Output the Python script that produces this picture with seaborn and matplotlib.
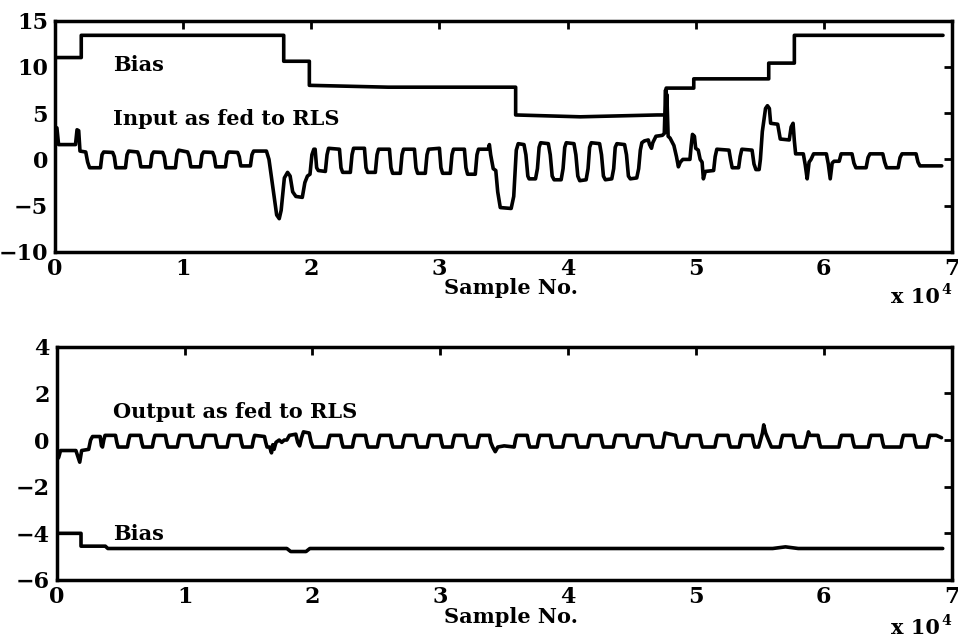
import matplotlib
matplotlib.use("Agg")
import matplotlib.pyplot as plt
import seaborn as sns
import pandas as pd

# ---------------- data (x in units of 1e4 samples) ----------------
input_x = [0.000, 0.015, 0.028, 0.160, 0.172, 0.185, 0.195, 0.240, 0.255, 0.270,
           0.355, 0.367, 0.380, 0.450, 0.463, 0.475,
           0.550, 0.562, 0.575, 0.645, 0.658, 0.670,
           0.745, 0.757, 0.770, 0.840, 0.853, 0.865,
           0.940, 0.952, 0.965, 1.035, 1.048, 1.060,
           1.135, 1.147, 1.160, 1.230, 1.243, 1.255,
           1.330, 1.342, 1.355, 1.425, 1.438, 1.450,
           1.525, 1.537, 1.550, 1.650, 1.670, 1.700, 1.730, 1.750, 1.765, 1.790,
           1.815, 1.835, 1.855, 1.880, 1.930, 1.950, 1.970, 1.990, 2.005, 2.020,
           2.030, 2.042, 2.055, 2.110, 2.123, 2.135,
           2.220, 2.232, 2.245, 2.305, 2.318, 2.330,
           2.415, 2.427, 2.440, 2.500, 2.513, 2.525,
           2.610, 2.622, 2.635, 2.695, 2.708, 2.720,
           2.805, 2.817, 2.830, 2.890, 2.903, 2.915,
           3.000, 3.012, 3.025, 3.085, 3.098, 3.110,
           3.195, 3.207, 3.220, 3.280, 3.293, 3.305,
           3.380, 3.390, 3.400, 3.420, 3.440, 3.455, 3.475, 3.560, 3.580, 3.600,
           3.615, 3.660, 3.675, 3.690, 3.700, 3.750, 3.765, 3.778, 3.790,
           3.850, 3.865, 3.880, 3.895, 3.950, 3.965, 3.978, 3.990,
           4.050, 4.065, 4.080, 4.095, 4.145, 4.160, 4.172, 4.185,
           4.250, 4.265, 4.280, 4.295, 4.345, 4.360, 4.372, 4.385,
           4.445, 4.460, 4.475, 4.490, 4.540, 4.555, 4.568, 4.580,
           4.600, 4.630, 4.640, 4.655, 4.665, 4.690, 4.740, 4.755, 4.765, 4.770,
           4.775, 4.785, 4.800, 4.830, 4.850, 4.865, 4.880, 4.900, 4.955, 4.965,
           4.975, 4.990, 5.000, 5.020, 5.035, 5.050, 5.060, 5.075, 5.140, 5.152,
           5.165, 5.260, 5.272, 5.285, 5.335, 5.347, 5.360, 5.440, 5.455, 5.470,
           5.495, 5.505, 5.520, 5.545, 5.560, 5.575, 5.585, 5.640, 5.660, 5.730,
           5.745, 5.760, 5.770, 5.780, 5.840, 5.855, 5.870, 5.885, 5.900, 5.920,
           6.020, 6.035, 6.050, 6.065, 6.080, 6.120, 6.135, 6.220, 6.235, 6.250,
           6.330, 6.345, 6.360, 6.460, 6.475, 6.490, 6.580, 6.595, 6.610, 6.720,
           6.735, 6.750, 6.920]
input_y = [3.5, 3.4, 1.6, 1.6, 3.2, 3.1, 0.9, 0.8, -0.3, -0.9,
           -0.9, 0.5, 0.8, 0.75, 0.3, -0.9,
           -0.9, 0.5, 0.9, 0.8, 0.3, -0.8,
           -0.8, 0.5, 0.8, 0.75, 0.3, -0.9,
           -0.9, 0.6, 1.0, 0.8, 0.3, -0.8,
           -0.8, 0.5, 0.8, 0.75, 0.3, -0.8,
           -0.8, 0.5, 0.8, 0.75, 0.3, -0.7,
           -0.7, 0.5, 0.9, 0.9, 0.0, -3.0, -6.0, -6.4, -5.5, -2.0,
           -1.4, -1.8, -3.5, -4.0, -4.1, -2.5, -1.8, -1.6, 0.5, 1.1,
           1.1, -0.9, -1.2, -1.3, 0.5, 1.2,
           1.1, -0.9, -1.4, -1.4, 0.5, 1.2,
           1.2, -0.9, -1.4, -1.4, 0.5, 1.1,
           1.1, -0.9, -1.5, -1.5, 0.5, 1.1,
           1.1, -0.9, -1.5, -1.5, 0.5, 1.1,
           1.2, -0.9, -1.5, -1.5, 0.5, 1.1,
           1.1, -0.9, -1.6, -1.6, 0.5, 1.1,
           1.1, 1.6, 0.5, -1.0, -1.2, -3.5, -5.2, -5.3, -4.0, 1.0,
           1.7, 1.6, 0.5, -1.8, -2.1, -2.1, -1.0, 1.3, 1.8,
           1.7, 0.5, -1.8, -2.2, -2.2, -1.0, 1.3, 1.8,
           1.7, 0.5, -1.8, -2.3, -2.2, -1.0, 1.3, 1.8,
           1.7, 0.5, -1.8, -2.2, -2.1, -1.0, 1.3, 1.7,
           1.6, 0.5, -1.8, -2.1, -2.0, -1.0, 1.0, 1.8,
           2.0, 2.1, 1.6, 1.2, 1.8, 2.5, 2.6, 2.8, 7.5, 3.0,
           7.0, 2.5, 2.3, 1.5, 0.3, -0.8, -0.3, 0.0, 0.0, 1.5,
           2.7, 2.5, 1.2, 1.0, 0.0, -0.3, -2.1, -1.3, -1.2, 0.3,
           1.1, 1.0, 0.0, -0.9, -0.9, 0.3, 1.1, 1.0, -0.5, -1.1,
           -1.1, 0.0, 3.0, 5.5, 5.8, 5.5, 3.9, 3.8, 2.2, 2.1,
           3.5, 3.9, 2.0, 0.6, 0.6, -0.6, -2.1, -0.3, 0.0, 0.6,
           0.6, -0.5, -2.1, -0.4, -0.2, -0.2, 0.6, 0.6, -0.4, -0.9,
           -0.9, 0.2, 0.6, 0.6, -0.3, -0.9, -0.9, 0.2, 0.6, 0.6,
           -0.3, -0.7, -0.7]

bias_top_x = [0.0, 0.205, 0.205, 1.785, 1.785, 1.985, 1.985, 2.6, 3.595, 3.595,
              4.1, 4.7, 4.77, 4.77, 4.985, 4.985, 5.57, 5.57, 5.77, 5.77, 6.93]
bias_top_y = [11.0, 11.0, 13.4, 13.4, 10.6, 10.6, 8.0, 7.8, 7.8, 4.8,
              4.6, 4.8, 4.8, 7.7, 7.7, 8.7, 8.7, 10.4, 10.4, 13.4, 13.4]

output_x = [0.000, 0.015, 0.030, 0.150, 0.165, 0.180, 0.195, 0.250, 0.265, 0.280,
            0.340, 0.350,
            0.358, 0.368, 0.378, 0.460, 0.470, 0.480,
            0.553, 0.563, 0.573, 0.655, 0.665, 0.675,
            0.748, 0.758, 0.768, 0.850, 0.860, 0.870,
            0.943, 0.953, 0.963, 1.045, 1.055, 1.065,
            1.138, 1.148, 1.158, 1.240, 1.250, 1.260,
            1.333, 1.343, 1.353, 1.435, 1.445, 1.455,
            1.528, 1.538, 1.548, 1.625, 1.635, 1.645,
            1.665, 1.680, 1.690, 1.700, 1.715, 1.740, 1.760, 1.780, 1.800, 1.820,
            1.870, 1.885, 1.900, 1.915, 1.930, 1.975, 1.990, 2.005,
            2.118, 2.128, 2.138, 2.220, 2.230, 2.240,
            2.313, 2.323, 2.333, 2.415, 2.425, 2.435,
            2.508, 2.518, 2.528, 2.610, 2.620, 2.630,
            2.703, 2.713, 2.723, 2.805, 2.815, 2.825,
            2.898, 2.908, 2.918, 3.000, 3.010, 3.020,
            3.093, 3.103, 3.113, 3.195, 3.205, 3.215,
            3.288, 3.298, 3.308, 3.385, 3.395, 3.410, 3.430, 3.450, 3.500,
            3.578, 3.588, 3.598, 3.680, 3.690, 3.700,
            3.758, 3.768, 3.778, 3.860, 3.870, 3.880,
            3.958, 3.968, 3.978, 4.060, 4.070, 4.080,
            4.153, 4.163, 4.173, 4.255, 4.265, 4.275,
            4.353, 4.363, 4.373, 4.455, 4.465, 4.475,
            4.538, 4.548, 4.558, 4.650, 4.660, 4.670,
            4.738, 4.748, 4.758, 4.840, 4.850, 4.860,
            4.928, 4.938, 4.948, 5.030, 5.040, 5.050,
            5.148, 5.158, 5.168, 5.250, 5.260, 5.270,
            5.338, 5.348, 5.358, 5.440, 5.450, 5.460,
            5.490, 5.505, 5.520, 5.530, 5.545, 5.560, 5.575, 5.590,
            5.658, 5.668, 5.678, 5.760, 5.770, 5.780,
            5.850, 5.865, 5.880, 5.890, 5.900, 5.955, 5.965, 5.975, 6.000,
            6.118, 6.128, 6.138, 6.220, 6.230, 6.240,
            6.348, 6.358, 6.368, 6.450, 6.460, 6.470,
            6.603, 6.613, 6.623, 6.705, 6.715, 6.725,
            6.808, 6.818, 6.828, 6.880, 6.920]
output_y = [-0.85, -0.75, -0.45, -0.45, -0.7, -0.95, -0.45, -0.4, 0.0, 0.15,
            0.15, -0.25,
            -0.3, 0.0, 0.2, 0.2, -0.1, -0.3,
            -0.3, 0.0, 0.2, 0.2, -0.1, -0.3,
            -0.3, 0.0, 0.2, 0.2, -0.1, -0.3,
            -0.3, 0.0, 0.2, 0.2, -0.1, -0.3,
            -0.3, 0.0, 0.2, 0.2, -0.1, -0.3,
            -0.3, 0.0, 0.2, 0.2, -0.1, -0.3,
            -0.3, 0.0, 0.2, 0.15, -0.1, -0.3,
            -0.3, -0.55, -0.2, -0.4, -0.1, 0.0, -0.1, 0.0, 0.0, 0.2,
            0.25, -0.1, -0.25, 0.1, 0.35, 0.3, -0.1, -0.3,
            -0.3, 0.0, 0.2, 0.2, -0.1, -0.3,
            -0.3, 0.0, 0.2, 0.2, -0.1, -0.3,
            -0.3, 0.0, 0.2, 0.2, -0.1, -0.3,
            -0.3, 0.0, 0.2, 0.2, -0.1, -0.3,
            -0.3, 0.0, 0.2, 0.2, -0.1, -0.3,
            -0.3, 0.0, 0.2, 0.2, -0.1, -0.3,
            -0.3, 0.0, 0.2, 0.2, -0.1, -0.3, -0.5, -0.3, -0.25,
            -0.3, 0.0, 0.2, 0.2, -0.1, -0.3,
            -0.3, 0.0, 0.2, 0.2, -0.1, -0.3,
            -0.3, 0.0, 0.2, 0.2, -0.1, -0.3,
            -0.3, 0.0, 0.2, 0.2, -0.1, -0.3,
            -0.3, 0.0, 0.2, 0.2, -0.1, -0.3,
            -0.3, 0.0, 0.2, 0.2, -0.1, -0.3,
            -0.3, 0.0, 0.3, 0.2, -0.1, -0.3,
            -0.3, 0.0, 0.2, 0.2, -0.1, -0.3,
            -0.3, 0.0, 0.2, 0.2, -0.1, -0.3,
            -0.3, 0.0, 0.2, 0.2, -0.1, -0.3,
            -0.3, 0.0, 0.3, 0.65, 0.3, 0.1, -0.1, -0.3,
            -0.3, 0.0, 0.2, 0.2, -0.1, -0.3,
            -0.3, 0.0, 0.35, 0.2, 0.2, 0.2, -0.1, -0.3, -0.3,
            -0.3, 0.0, 0.2, 0.2, -0.1, -0.3,
            -0.3, 0.0, 0.2, 0.2, -0.1, -0.3,
            -0.3, 0.0, 0.2, 0.2, -0.1, -0.3,
            -0.3, 0.0, 0.2, 0.2, 0.1]

bias_bot_x = [0.0, 0.19, 0.19, 0.38, 0.40, 1.80, 1.83, 1.95, 1.98, 5.6, 5.7, 5.8, 6.93]
bias_bot_y = [-4.0, -4.0, -4.55, -4.55, -4.65, -4.65, -4.78, -4.78, -4.65, -4.65, -4.58, -4.65, -4.65]

top_yticks = [-10, -5, 0, 5, 10, 15]
bot_yticks = [-6, -4, -2, 0, 2, 4]
xticks = [0, 1, 2, 3, 4, 5, 6, 7]
xtick_labels = ["0", "1", "2", "3", "4", "5", "6", "7"]

# ---------------- style ----------------
sns.set_theme(style="white")
FONT = ["DejaVu Serif"]
plt.rcParams["font.family"] = FONT
plt.rcParams["font.weight"] = "bold"
plt.rcParams["axes.unicode_minus"] = True

fig = plt.figure(figsize=(9.58, 6.37), dpi=100)
fig.patch.set_facecolor("white")
ax1 = fig.add_axes([0.0574, 0.6044, 0.9363, 0.3634])
ax2 = fig.add_axes([0.0592, 0.0895, 0.9342, 0.3662])

LW = 2.6

def draw(ax, xs, ys):
    df = pd.DataFrame({"x": xs, "y": ys})
    sns.lineplot(data=df, x="x", y="y", ax=ax, estimator=None, sort=False,
                 color="black", linewidth=LW, legend=False)

draw(ax1, input_x, input_y)
draw(ax1, bias_top_x, bias_top_y)
draw(ax2, output_x, output_y)
draw(ax2, bias_bot_x, bias_bot_y)

for ax, yt, ylim in [(ax1, top_yticks, (-10, 15)), (ax2, bot_yticks, (-6, 4))]:
    ax.set_facecolor("white")
    ax.set_xlim(0, 7)
    ax.set_ylim(*ylim)
    ax.set_xticks(xticks)
    ax.set_xticklabels(xtick_labels)
    ax.set_yticks(yt)
    ax.set_yticklabels([str(v).replace("-", "\u2212") for v in yt])
    ax.set_xlabel("")
    ax.set_ylabel("")
    for s in ax.spines.values():
        s.set_visible(True)
        s.set_color("black")
        s.set_linewidth(2.5)
    ax.tick_params(axis="both", which="major", direction="in", length=6, width=2,
                   colors="black", top=True, right=True, labelsize=16)
    ax.tick_params(axis="x", pad=4)
    ax.tick_params(axis="y", pad=5)
    for lab in ax.get_xticklabels() + ax.get_yticklabels():
        lab.set_fontweight("bold")
        lab.set_family(FONT)
    ax.grid(False)

txt = dict(fontsize=15, fontweight="bold", family=FONT, color="black")
ax1.text(0.45, 9.5, "Bias", va="baseline", ha="left", **txt)
ax1.text(0.45, 3.75, "Input as fed to RLS", va="baseline", ha="left", **txt)
ax2.text(0.44, 0.95, "Output as fed to RLS", va="baseline", ha="left", **txt)
ax2.text(0.44, -4.3, "Bias", va="baseline", ha="left", **txt)

# x-axis labels and exponent
fig.text(511 / 958, 1 - 294 / 637, "Sample No.", ha="center", va="baseline", **txt)
fig.text(511 / 958, 1 - 623 / 637, "Sample No.", ha="center", va="baseline", **txt)
for base in (303, 634):
    fig.text(940 / 958, 1 - base / 637, "x 10", ha="right", va="baseline", **txt)
    fig.text(941 / 958, 1 - (base - 9) / 637, "4", ha="left", va="baseline",
             fontsize=10, fontweight="bold", family=FONT, color="black")

fig.savefig("out.png", dpi=100, facecolor="white")
